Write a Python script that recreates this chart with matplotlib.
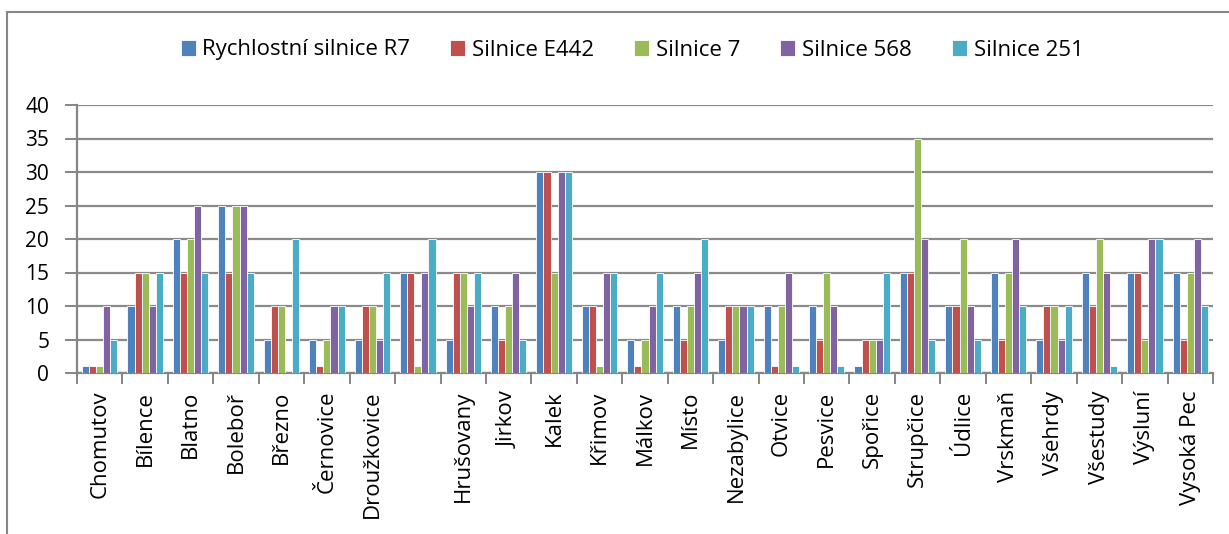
import numpy as np
import matplotlib
matplotlib.use('Agg')
import matplotlib.pyplot as plt
from matplotlib.patches import Rectangle

plt.rcParams['font.family'] = ['Open Sans', 'DejaVu Sans']

# obce (jedna kategorie bez popisku)
obce = ['Chomutov', 'Bílence', 'Blatno', 'Boleboř', 'Březno', 'Černovice',
        'Droužkovice', '', 'Hrušovany', 'Jirkov', 'Kalek', 'Křimov', 'Málkov',
        'Místo', 'Nezabylice', 'Otvice', 'Pesvice', 'Spořice', 'Strupčice',
        'Údlice', 'Vrskmaň', 'Všehrdy', 'Všestudy', 'Výsluní', 'Vysoká Pec']

serie = ['Rychlostní silnice R7', 'Silnice E442', 'Silnice 7', 'Silnice 568', 'Silnice 251']

r7 =    [1, 10, 20, 25, 5, 5, 5, 15, 5, 10, 30, 10, 5, 10, 5, 10, 10, 1, 15, 10, 15, 5, 15, 15, 15]
e442 =  [1, 15, 15, 15, 10, 1, 10, 15, 15, 5, 30, 10, 1, 5, 10, 1, 5, 5, 15, 10, 5, 10, 10, 15, 5]
s7 =    [1, 15, 20, 25, 10, 5, 10, 1, 15, 10, 15, 1, 5, 10, 10, 10, 15, 5, 35, 20, 15, 10, 20, 5, 15]
s568 =  [10, 10, 25, 25, 0, 10, 5, 15, 10, 15, 30, 15, 10, 15, 10, 15, 10, 5, 20, 10, 20, 5, 15, 20, 20]
s251 =  [5, 15, 15, 15, 20, 10, 15, 20, 15, 5, 30, 15, 15, 20, 10, 1, 1, 15, 5, 5, 10, 10, 1, 20, 10]

barvy = ['#4F81BD', '#C0504D', '#9BBB59', '#8064A2', '#4BACC6']

fig = plt.figure(figsize=(12.29, 5.34), dpi=100)
ax = fig.add_axes([77 / 1229, 1 - 373 / 534, 1136 / 1229, 268 / 534])

# ramecek grafu
fig.patches.append(Rectangle((7 / 1229, -0.1), 1.1, 1 - 12 / 534 + 0.1,
                             transform=fig.transFigure, fill=False,
                             edgecolor='#868686', linewidth=1.5))

x = np.arange(len(obce))
sirka = 0.156
data = [r7, e442, s7, s568, s251]
for i, (hodnoty, nazev, barva) in enumerate(zip(data, serie, barvy)):
    ax.bar(x + (i - 2) * sirka, hodnoty, sirka, color=barva, label=nazev,
           edgecolor='white', linewidth=0.6, zorder=3)

ax.set_xlim(-0.5, len(obce) - 0.5)
ax.set_ylim(0, 40)
ax.set_yticks(range(0, 41, 5))
ax.tick_params(axis='y', labelsize=15, length=9, width=1.4, color='#868686', pad=11)
ax.grid(axis='y', color='#8a8a8a', linewidth=1.6, zorder=0)

ax.set_xticks(np.arange(len(obce) + 1) - 0.5)
ax.set_xticklabels([])
ax.tick_params(axis='x', length=8, width=1.4, color='#868686')
for xi, nazev in zip(x, obce):
    ax.text(xi, -0.066, nazev, transform=ax.get_xaxis_transform(), rotation=90,
            ha='center', va='top', fontsize=16)

for s in ['top', 'right']:
    ax.spines[s].set_visible(False)
ax.spines['left'].set_color('#868686')
ax.spines['left'].set_linewidth(1.6)
ax.spines['bottom'].set_color('#868686')
ax.spines['bottom'].set_linewidth(1.6)

fig.legend(loc='center', bbox_to_anchor=(632 / 1229, 1 - 50 / 534), ncol=5,
           frameon=False, fontsize=16, handlelength=0.68, handleheight=0.7,
           handletextpad=0.3, columnspacing=1.8)

fig.savefig('out.png', dpi=100)
